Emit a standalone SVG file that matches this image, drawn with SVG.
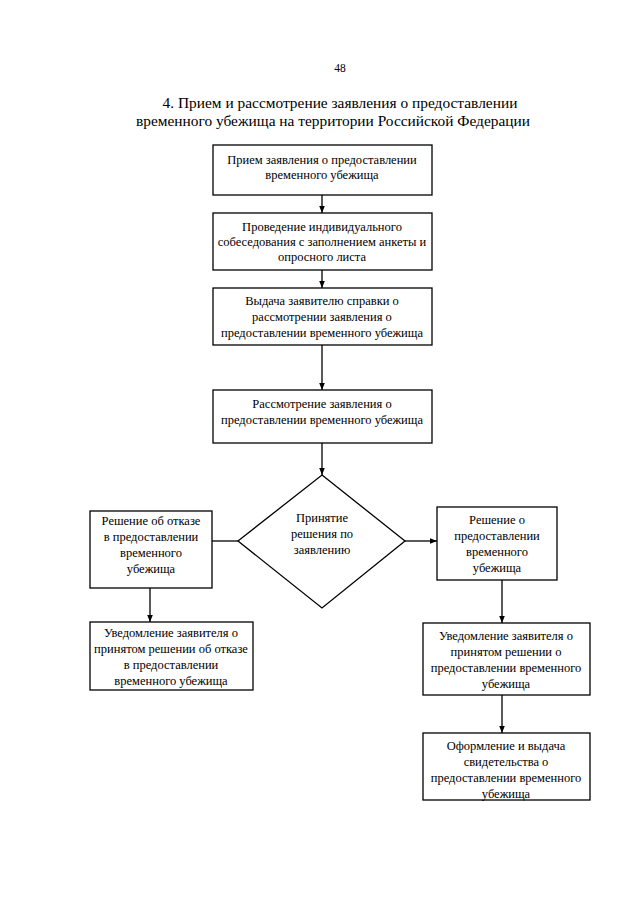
<svg xmlns="http://www.w3.org/2000/svg" width="640" height="905" viewBox="0 0 640 905">
<defs>
<marker id="ah" viewBox="0 0 10 10" refX="10" refY="5" markerWidth="7" markerHeight="7" markerUnits="userSpaceOnUse" orient="auto"><path d="M0,1 L10,5 L0,9 z" fill="#000"/></marker>
<style>
.b{fill:#fff;stroke:#000;stroke-width:1.3}
.t{font-family:"Liberation Serif","DejaVu Serif",serif;font-size:12.5px;fill:#000;text-anchor:middle}
.h{font-family:"Liberation Serif","DejaVu Serif",serif;font-size:15.4px;fill:#000;text-anchor:middle}
.c{stroke:#000;stroke-width:1.3;fill:none}
.a{marker-end:url(#ah)}
</style>
</defs>
<rect width="640" height="905" fill="#fff"/>
<text class="t" x="340" y="72" style="font-size:11.5px">48</text>
<text class="h" x="340" y="108">4. Прием и рассмотрение заявления о предоставлении</text>
<text class="h" x="333" y="126">временного убежища на территории Российской Федерации</text>

<g id="connectors">
<line class="c a" x1="322" y1="195" x2="322" y2="213"/>
<line class="c a" x1="322" y1="270" x2="322" y2="288"/>
<line class="c a" x1="322" y1="345" x2="322" y2="390"/>
<line class="c a" x1="322" y1="443" x2="322" y2="475"/>
<line class="c" x1="238" y1="541" x2="212" y2="541"/>
<line class="c a" x1="405" y1="541" x2="437" y2="541"/>
<line class="c a" x1="150" y1="588" x2="150" y2="622"/>
<line class="c a" x1="502" y1="580" x2="502" y2="623"/>
<line class="c a" x1="502" y1="695" x2="502" y2="733"/>
</g>

<g id="n1"><rect class="b" x="213" y="145" width="219" height="50"/>
<text class="t" x="322" y="164">Прием заявления о предоставлении</text>
<text class="t" x="322" y="179">временного убежища</text></g>

<g id="n2"><rect class="b" x="213" y="213" width="219" height="57"/>
<text class="t" x="322" y="231">Проведение индивидуального</text>
<text class="t" x="322" y="246">собеседования с заполнением анкеты и</text>
<text class="t" x="322" y="261">опросного листа</text></g>

<g id="n3"><rect class="b" x="213" y="288" width="219" height="57"/>
<text class="t" x="322" y="305">Выдача заявителю справки о</text>
<text class="t" x="322" y="321">рассмотрении заявления о</text>
<text class="t" x="322" y="337">предоставлении временного убежища</text></g>

<g id="n4"><rect class="b" x="213" y="390" width="219" height="53"/>
<text class="t" x="322" y="408">Рассмотрение заявления о</text>
<text class="t" x="322" y="424">предоставлении временного убежища</text></g>

<g id="n5"><polygon class="b" points="322,475 405,541 322,608 238,541"/>
<text class="t" x="322" y="522">Принятие</text>
<text class="t" x="322" y="538">решения по</text>
<text class="t" x="322" y="554">заявлению</text></g>

<g id="n6"><rect class="b" x="90" y="511" width="122" height="77"/>
<text class="t" x="151" y="525">Решение об отказе</text>
<text class="t" x="151" y="541">в предоставлении</text>
<text class="t" x="151" y="557">временного</text>
<text class="t" x="151" y="573">убежища</text></g>

<g id="n7"><rect class="b" x="437" y="507" width="120" height="73"/>
<text class="t" x="497" y="524">Решение о</text>
<text class="t" x="497" y="540">предоставлении</text>
<text class="t" x="497" y="556">временного</text>
<text class="t" x="497" y="572">убежища</text></g>

<g id="n8"><rect class="b" x="90" y="622" width="163" height="68"/>
<text class="t" x="171" y="637">Уведомление заявителя о</text>
<text class="t" x="171" y="653">принятом решении об отказе</text>
<text class="t" x="171" y="669">в предоставлении</text>
<text class="t" x="171" y="685">временного убежища</text></g>

<g id="n9"><rect class="b" x="423" y="623" width="167" height="72"/>
<text class="t" x="506" y="640">Уведомление заявителя о</text>
<text class="t" x="506" y="656">принятом решении о</text>
<text class="t" x="506" y="672">предоставлении временного</text>
<text class="t" x="506" y="688">убежища</text></g>

<g id="n10"><rect class="b" x="423" y="733" width="167" height="67"/>
<text class="t" x="506" y="750">Оформление и выдача</text>
<text class="t" x="506" y="766">свидетельства о</text>
<text class="t" x="506" y="782">предоставлении временного</text>
<text class="t" x="506" y="798">убежища</text></g>
</svg>
